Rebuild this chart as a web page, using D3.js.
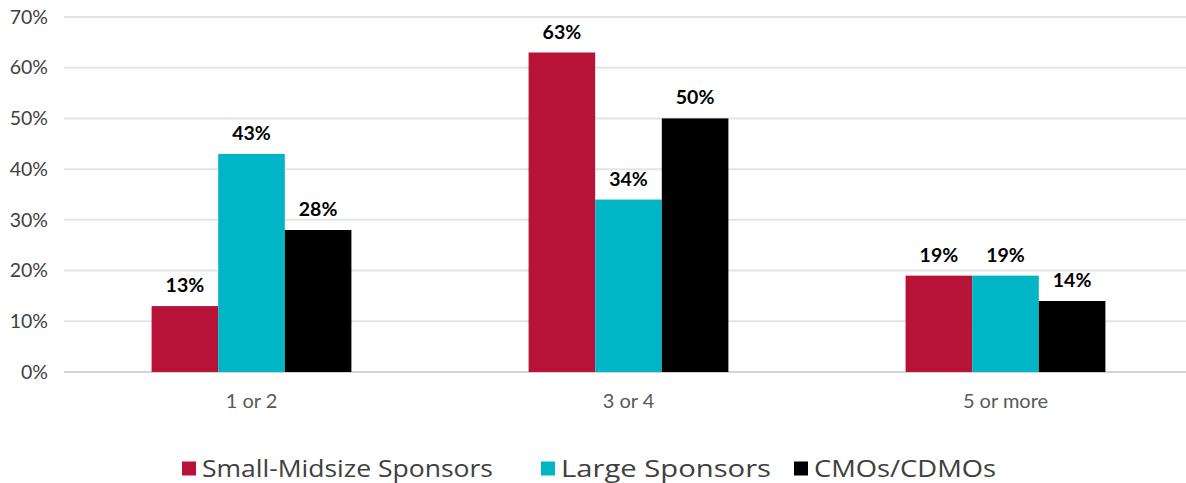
<!DOCTYPE html>
<html>
<head>
<meta charset="utf-8">
<script src="https://cdn.jsdelivr.net/npm/d3@7"></script>
<style>
  html, body { margin: 0; padding: 0; background: #fff; }
  svg { display: block; font-family: Lato, "Open Sans", sans-serif; }
</style>
</head>
<body>
<svg id="chart" width="1186" height="483"></svg>
<script>
// Number of something per respondent group
const categories = ["1 or 2", "3 or 4", "5 or more"];
const seriesNames = ["Small-Midsize Sponsors", "Large Sponsors", "CMOs/CDMOs"];
const seriesColors = ["#B71338", "#00B5C5", "#000000"];
const smallMidsize = [13, 63, 19];
const large = [43, 34, 19];
const cmos = [28, 50, 14];
const yTicks = [0, 10, 20, 30, 40, 50, 60, 70];

const seriesValues = [smallMidsize, large, cmos];
const rows = categories.map((c, i) => ({
  category: c,
  values: seriesNames.map((s, j) => ({ series: s, value: seriesValues[j][i], color: seriesColors[j] }))
}));

const svg = d3.select("#chart");
const W = 1186;
const plot = { left: 63, right: 1194, top: 17, bottom: 372 };

const x0 = d3.scaleBand()
  .domain(categories)
  .range([plot.left, plot.right])
  .paddingInner(0.47)
  .paddingOuter(0.235);

const x1 = d3.scaleBand()
  .domain(seriesNames)
  .range([0, x0.bandwidth()]);

const y = d3.scaleLinear().domain([0, 70]).range([plot.bottom, plot.top]);

// Horizontal gridlines
svg.append("g")
  .selectAll("line")
  .data(yTicks)
  .join("line")
  .attr("x1", 64)
  .attr("x2", W)
  .attr("y1", d => y(d))
  .attr("y2", d => y(d))
  .attr("stroke", d => d === 0 ? "#d4d4d4" : "#e4e4e4")
  .attr("stroke-width", 2);

// Y axis labels
const yAxis = d3.axisLeft(y).tickValues(yTicks).tickFormat(d => d + "%").tickSize(0).tickPadding(0);
const yg = svg.append("g").attr("transform", "translate(48,0)").call(yAxis);
yg.select(".domain").remove();
yg.selectAll("text")
  .attr("fill", "#404040")
  .style("font-size", "19.5px")
  .style("font-family", "Lato, sans-serif");

// Category labels
const xAxis = d3.axisBottom(x0).tickSize(0).tickPadding(0);
const xg = svg.append("g").attr("transform", `translate(0,${plot.bottom + 22})`).call(xAxis);
xg.select(".domain").remove();
xg.selectAll("text")
  .attr("fill", "#595959")
  .attr("dy", "0.71em")
  .style("font-size", "20px")
  .style("font-family", "Lato, sans-serif");

// Bars
const groups = svg.append("g")
  .selectAll("g")
  .data(rows)
  .join("g")
  .attr("transform", d => `translate(${x0(d.category)},0)`);

groups.selectAll("rect")
  .data(d => d.values)
  .join("rect")
  .attr("x", d => x1(d.series))
  .attr("y", d => y(d.value))
  .attr("width", x1.bandwidth())
  .attr("height", d => y(0) - y(d.value))
  .attr("fill", d => d.color);

// Value labels
groups.selectAll("text")
  .data(d => d.values)
  .join("text")
  .attr("x", d => x1(d.series) + x1.bandwidth() / 2)
  .attr("y", d => y(d.value) - 14)
  .attr("text-anchor", "middle")
  .attr("fill", "#000")
  .style("font-size", "19.5px")
  .style("font-weight", "700")
  .text(d => d.value + "%");

// Legend (wide face: labels stretched to their set widths)
const legendX = [182, 541, 794];
const legendTextWidth = [291, 210, 182];
const legend = svg.append("g")
  .selectAll("g")
  .data(seriesNames)
  .join("g")
  .attr("transform", (d, i) => `translate(${legendX[i]},468.5)`);

legend.append("rect")
  .attr("x", 0)
  .attr("y", -7)
  .attr("width", 14)
  .attr("height", 14)
  .attr("fill", (d, i) => seriesColors[i]);

legend.append("text")
  .attr("x", 20)
  .attr("y", 0)
  .attr("dy", "0.36em")
  .attr("fill", "#404040")
  .attr("textLength", (d, i) => legendTextWidth[i])
  .attr("lengthAdjust", "spacingAndGlyphs")
  .style("font-size", "24.5px")
  .style("font-family", "'Open Sans', sans-serif")
  .text(d => d);
</script>
</body>
</html>
